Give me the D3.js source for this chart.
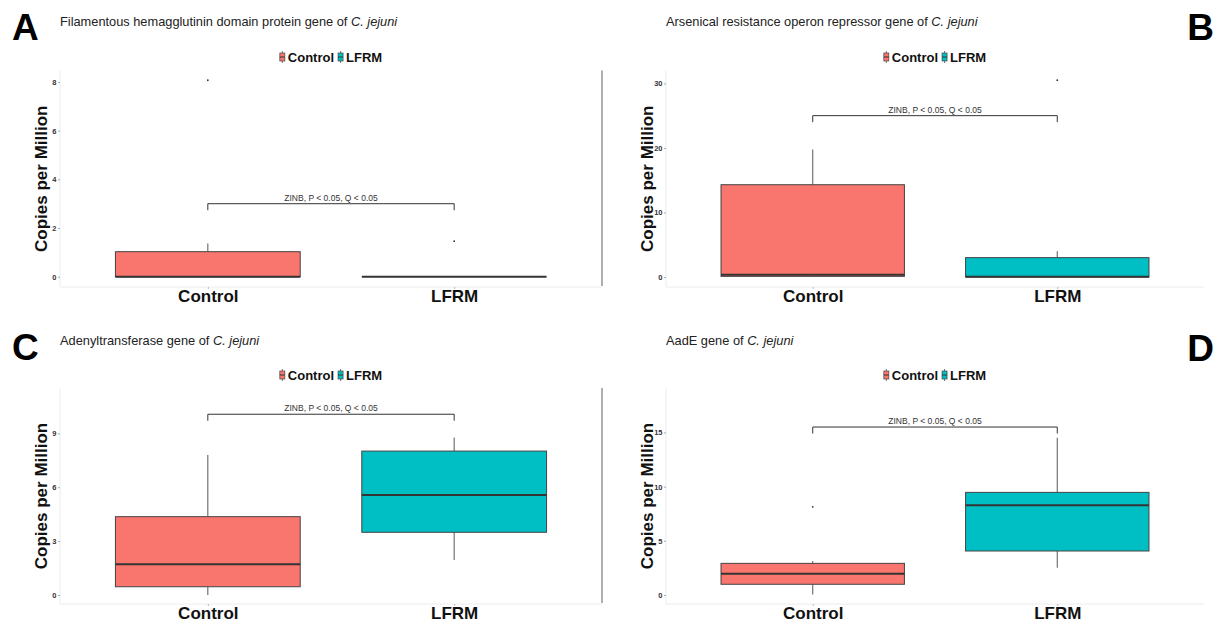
<!DOCTYPE html>
<html>
<head>
<meta charset="utf-8">
<script src="https://cdn.jsdelivr.net/npm/d3@7"></script>
<style>
  body { margin: 0; background: #fff; }
  svg { display: block; font-family: "Liberation Sans", Arial, sans-serif; }
</style>
</head>
<body>
<svg id="fig" width="1222" height="628"></svg>
<script>
// ---- data ----
const groups = ["Control", "LFRM"];
const groupColors = ["#F8766D", "#00BFC4"];
const panelLetters = ["A", "B", "C", "D"];
const geneNames = [
  "Filamentous hemagglutinin domain protein gene of ",
  "Arsenical resistance operon repressor gene of ",
  "Adenyltransferase gene of ",
  "AadE gene of "
];
const speciesName = "C. jejuni";
const yAxisTitle = "Copies per Million";
const testLabel = "ZINB, P < 0.05, Q < 0.05";

// y tick labels per panel
const ticksA = [0, 2, 4, 6, 8];
const ticksB = [0, 10, 20, 30];
const ticksC = [0, 3, 6, 9];
const ticksD = [0, 5, 10, 15];

// five-number summaries [lower whisker, Q1, median, Q3, upper whisker]; Control, LFRM
const boxA = [[0, 0, 0, 1.03, 1.37], [0, 0, 0, 0, 0]];
const boxB = [[0, 0.1, 0.35, 14.3, 19.75], [0, 0, 0.05, 3.0, 4.0]];
const boxC = [[0, 0.46, 1.71, 4.36, 7.79], [1.95, 3.49, 5.56, 8.01, 8.77]];
const boxD = [[0.05, 0.99, 1.96, 2.92, 3.13], [2.52, 4.06, 8.29, 9.47, 14.5]];

// outlying samples; Control, LFRM
const outA = [[8.07], [1.46]];
const outB = [[], [30.5]];
const outC = [[], []];
const outD = [[8.14], []];

// significance bracket heights
const bracketLevels = [3.0, 25, 10.06, 15.5];

// ---- layout ----
const panels = [
  { box: boxA, out: outA, ticks: ticksA, yDomain: [-0.42, 8.47], left: 60, right: 602, top: 70.5, bottom: 287, edge: true,
    letterX: 12, letterY: 40, letterAnchor: "start", titleY: 26, legendY: 57 },
  { box: boxB, out: outB, ticks: ticksB, yDomain: [-1.55, 32.0], left: 666, right: 1204, top: 70.5, bottom: 287, edge: false,
    letterX: 1214, letterY: 40, letterAnchor: "end", titleY: 26, legendY: 57 },
  { box: boxC, out: outC, ticks: ticksC, yDomain: [-0.5, 11.52], left: 60, right: 602, top: 388, bottom: 604, edge: true,
    letterX: 12, letterY: 360, letterAnchor: "start", titleY: 345, legendY: 375 },
  { box: boxD, out: outD, ticks: ticksD, yDomain: [-0.83, 19.1], left: 666, right: 1204, top: 388, bottom: 604, edge: false,
    letterX: 1214, letterY: 361, letterAnchor: "end", titleY: 345, legendY: 375 }
];

const svg = d3.select("#fig");

panels.forEach((p, i) => {
  const g = svg.append("g");
  const x = d3.scalePoint().domain(groups).range([p.left, p.right]).padding(0.6);
  const y = d3.scaleLinear().domain(p.yDomain).range([p.bottom, p.top]);
  const color = d3.scaleOrdinal().domain(groups).range(groupColors);
  const boxW = x.step() * 0.75;

  // faint axis lines
  g.append("line").attr("x1", p.left).attr("x2", p.left).attr("y1", p.top).attr("y2", p.bottom)
    .attr("stroke", "#ececec").attr("stroke-width", 1);
  g.append("line").attr("x1", p.left).attr("x2", p.right).attr("y1", p.bottom).attr("y2", p.bottom)
    .attr("stroke", "#ececec").attr("stroke-width", 1);
  if (p.edge) {
    g.append("line").attr("x1", p.right).attr("x2", p.right).attr("y1", p.top).attr("y2", p.bottom - 1)
      .attr("stroke", "#7a7a7a").attr("stroke-width", 1.2);
  }

  // y axis
  const ya = g.append("g").attr("transform", `translate(${p.left},0)`)
    .call(d3.axisLeft(y).tickValues(p.ticks).tickSize(2).tickPadding(1.5));
  ya.select(".domain").remove();
  ya.selectAll(".tick line").attr("stroke", "#aaa");
  ya.selectAll(".tick text").attr("font-size", 7.5).attr("font-weight", "bold").attr("fill", "#333")
    .attr("font-family", "Liberation Sans, Arial, sans-serif");

  // x axis
  const xa = g.append("g").attr("transform", `translate(0,${p.bottom})`)
    .call(d3.axisBottom(x).tickSize(2).tickPadding(1));
  xa.select(".domain").remove();
  xa.selectAll(".tick line").attr("stroke", "#bbb");
  xa.selectAll(".tick text").attr("font-size", 17).attr("font-weight", "bold").attr("fill", "#111")
    .attr("font-family", "Liberation Sans, Arial, sans-serif");

  // y axis title
  const yMid = (p.top + p.bottom) / 2;
  g.append("text")
    .attr("transform", `translate(${p.left - 13},${yMid}) rotate(-90)`)
    .attr("text-anchor", "middle").attr("font-size", 17).attr("font-weight", "bold").attr("fill", "#111")
    .text(yAxisTitle);

  // boxplots
  groups.forEach((grp, k) => {
    const s = p.box[k];
    const cx = x(grp);
    const bg = g.append("g");
    // whiskers
    bg.append("line").attr("x1", cx).attr("x2", cx).attr("y1", y(s[3])).attr("y2", y(s[4]))
      .attr("stroke", "#666").attr("stroke-width", 1.1);
    bg.append("line").attr("x1", cx).attr("x2", cx).attr("y1", y(s[1])).attr("y2", y(s[0]))
      .attr("stroke", "#666").attr("stroke-width", 1.1);
    // box
    bg.append("rect").attr("x", cx - boxW / 2).attr("width", boxW)
      .attr("y", y(s[3])).attr("height", Math.max(0, y(s[1]) - y(s[3])))
      .attr("fill", color(grp)).attr("stroke", "#444").attr("stroke-width", 1);
    // median
    bg.append("line").attr("x1", cx - boxW / 2).attr("x2", cx + boxW / 2)
      .attr("y1", y(s[2])).attr("y2", y(s[2]))
      .attr("stroke", "#333").attr("stroke-width", 2);
    // outliers
    bg.selectAll("circle").data(p.out[k]).join("circle")
      .attr("cx", cx).attr("cy", d => y(d)).attr("r", 0.9).attr("fill", "#333");
  });

  // significance bracket
  const by = y(bracketLevels[i]);
  const tip = (p.bottom - p.top) * 0.03;
  const x0 = x(groups[0]), x1 = x(groups[1]);
  g.append("path")
    .attr("d", `M${x0},${by + tip}V${by}H${x1}V${by + tip}`)
    .attr("fill", "none").attr("stroke", "#333").attr("stroke-width", 1);
  g.append("text").attr("x", (x0 + x1) / 2).attr("y", by - 3)
    .attr("text-anchor", "middle").attr("font-size", 8.5).attr("fill", "#333")
    .text(testLabel);

  // title
  const t = g.append("text").attr("x", p.left).attr("y", p.titleY)
    .attr("font-size", 12.8).attr("fill", "#222");
  t.append("tspan").text(geneNames[i]);
  t.append("tspan").attr("font-style", "italic").text(speciesName);

  // panel letter
  g.append("text").attr("x", p.letterX).attr("y", p.letterY).attr("text-anchor", p.letterAnchor)
    .attr("font-size", 37).attr("font-weight", "bold").attr("fill", "#000")
    .text(panelLetters[i]);

  // legend
  const lg = g.append("g");
  let cursor = 0;
  groups.forEach((grp, k) => {
    const it = lg.append("g").attr("transform", `translate(${cursor},0)`);
    // key glyph: miniature boxplot
    it.append("line").attr("x1", 2.5).attr("x2", 2.5).attr("y1", -6).attr("y2", 6)
      .attr("stroke", "#555").attr("stroke-width", 0.8);
    it.append("rect").attr("x", 0).attr("y", -4).attr("width", 5).attr("height", 8)
      .attr("fill", color(grp)).attr("stroke", "#444").attr("stroke-width", 0.7);
    it.append("line").attr("x1", 0).attr("x2", 5).attr("y1", 0).attr("y2", 0)
      .attr("stroke", "#333").attr("stroke-width", 1);
    const tx = it.append("text").attr("x", 8).attr("y", 4.6)
      .attr("font-size", 13).attr("font-weight", "bold").attr("fill", "#111").text(grp);
    const w = 8 + tx.node().getComputedTextLength();
    cursor += w + 4;
  });
  const total = cursor - 4;
  lg.attr("transform", `translate(${(p.left + p.right) / 2 - total / 2},${p.legendY})`);
});
</script>
</body>
</html>
